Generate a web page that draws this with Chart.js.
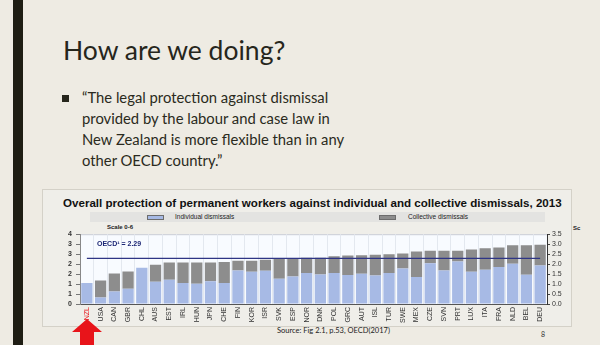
<!DOCTYPE html>
<html>
<head>
<meta charset="utf-8">
<script src="https://cdn.jsdelivr.net/npm/chart.js@4.4.1/dist/chart.umd.min.js"></script>
<style>
html,body{margin:0;padding:0;}
body{width:600px;height:345px;overflow:hidden;background:#eeebe3;position:relative;font-family:Lato,"Open Sans",sans-serif;}
.abs{position:absolute;white-space:nowrap;}
#leftbar{left:13px;top:0;width:10px;height:345px;background:#1f1e14;}
#title{left:63px;top:34px;font-size:26.5px;line-height:32px;color:#26261c;}
#bullet{left:62px;top:95px;width:7px;height:7px;background:#26261c;}
#quote{left:82px;top:87px;font-size:14.8px;line-height:21px;color:#2a2a20;}
#frame{left:42px;top:189px;width:528px;height:136px;border:1px solid #d4d1c8;background:#efeee9;}
#ctitle{left:63px;top:197px;font-family:"Liberation Sans",Arial,sans-serif;font-weight:bold;font-size:10.5px;line-height:12px;color:#111;}
#band{left:90px;top:212px;width:455px;height:10px;background:#e3e3e1;}
.sw{position:absolute;width:15px;height:3px;border:1px solid #6d6d6d;}
.lt{font-family:"Liberation Sans Narrow","Liberation Sans",Arial,sans-serif;font-size:6.5px;line-height:8px;color:#222;}
#chartwrap{left:42px;top:226px;width:530px;height:100px;}
#oecd{left:97px;top:240px;font-family:"Liberation Sans Narrow","Liberation Sans",Arial,sans-serif;font-weight:bold;font-size:7px;line-height:8px;color:#1d2775;}
#source{left:277px;top:326px;font-size:7.5px;line-height:10px;color:#222;}
#pnum{left:541px;top:330px;font-size:7px;line-height:9px;color:#333;}
</style>
</head>
<body>
<div id="leftbar" class="abs"></div>
<div id="title" class="abs">How are we doing?</div>
<div id="bullet" class="abs"></div>
<div id="quote" class="abs">“The legal protection against dismissal<br>provided by the labour and case law in<br>New Zealand is more flexible than in any<br>other OECD country.”</div>
<div id="frame" class="abs"></div>
<div id="ctitle" class="abs"><span id="ctitleText">Overall protection of permanent workers against individual and collective dismissals, 2013</span></div>
<div id="band" class="abs"></div>
<div class="sw" style="left:147px;top:215px;background:#a7bae5;"></div>
<div class="abs lt" style="left:175px;top:213px;">Individual dismissals</div>
<div class="sw" style="left:379px;top:215px;background:#8d8d8d;"></div>
<div class="abs lt" style="left:408px;top:213px;">Collective dismissals</div>
<div class="abs lt" style="left:107px;top:223px;font-weight:bold;font-size:6px;">Scale 0-6</div>
<div class="abs lt" style="left:573px;top:224px;font-weight:bold;font-size:6px;">Sc</div>
<div id="chartwrap" class="abs"><canvas id="c" width="530" height="100"></canvas></div>
<div id="oecd" class="abs"></div>
<div id="source" class="abs">Source: Fig 2.1, p.53, OECD(2017)</div>
<div id="pnum" class="abs">8</div>
<svg class="abs" style="left:0;top:0;" width="600" height="345">
  <polygon points="87,319 102,332 94,332 94,345 80,345 80,332 72,332" fill="#e8141a"/>
</svg>
<script>
const countries = ['NZL','USA','CAN','GBR','CHL','AUS','EST','IRL','HUN','JPN','CHE','FIN','KOR','ISR','SVK','ESP','NOR','DNK','POL','GRC','AUT','ISL','TUR','SWE','MEX','CZE','SVN','PRT','LUX','ITA','FRA','NLD','BEL','DEU'];
const individual = [1.05,0.33,0.63,0.77,1.82,1.12,1.22,1.05,1.01,1.14,1.05,1.68,1.62,1.67,1.27,1.38,1.56,1.48,1.55,1.46,1.52,1.43,1.56,1.78,1.35,2.04,1.68,2.13,1.62,1.72,1.85,2.02,1.47,1.93];
const collective = [0.00,0.85,0.90,0.86,0.00,0.85,0.86,1.03,1.07,0.94,1.05,0.49,0.55,0.55,0.99,0.90,0.76,0.84,0.85,0.97,0.92,1.04,0.93,0.75,1.28,0.63,0.99,0.54,1.11,1.08,0.98,0.93,1.48,1.04];
const OECD_AVG = 2.29;
const axisTicks = [0,0.5,1,1.5,2,2.5,3,3.5];

document.getElementById('oecd').innerHTML = 'OECD¹ = ' + OECD_AVG.toFixed(2);

(function(){
  const el = document.getElementById('ctitle');
  const sp = document.getElementById('ctitleText');
  const target = 499;
  const fs = parseFloat(getComputedStyle(el).fontSize);
  el.style.fontSize = (fs * target / sp.getBoundingClientRect().width) + 'px';
})();

const plotBg = {
  id: 'plotBg',
  beforeDraw(chart) {
    const {ctx, chartArea: a} = chart;
    ctx.save();
    ctx.fillStyle = '#f8fbff';
    ctx.fillRect(a.left, a.top, a.right - a.left, a.bottom - a.top);
    ctx.strokeStyle = '#c8ccd3';
    ctx.lineWidth = 1;
    ctx.beginPath();
    ctx.moveTo(a.left, a.top + 0.5);
    ctx.lineTo(a.right, a.top + 0.5);
    ctx.stroke();
    ctx.restore();
  }
};

new Chart(document.getElementById('c'), {
  data: {
    labels: countries,
    datasets: [
      {type:'line', label:'OECD average', data: countries.map(() => OECD_AVG), borderColor:'#2f3585', borderWidth:1.3, pointRadius:0, stack:'oecd', order:0, yAxisID:'y'},
      {type:'bar', label:'Individual dismissals', data: individual, backgroundColor:'#a7bae5', stack:'s', barPercentage:0.82, categoryPercentage:1, order:1, yAxisID:'y'},
      {type:'bar', label:'Collective dismissals', data: collective, backgroundColor:'#8d8d8d', stack:'s', barPercentage:0.82, categoryPercentage:1, order:2, yAxisID:'y'}
    ]
  },
  options: {
    responsive: false,
    animation: false,
    layout: {padding: {top: 8, left: 0, right: 0, bottom: 0}},
    plugins: {legend: {display: false}, tooltip: {enabled: false}},
    scales: {
      x: {
        stacked: true,
        grid: {offset: true, color: '#e3e8ef', drawTicks: false},
        border: {color: '#555'},
        ticks: {autoSkip: false, minRotation: 90, maxRotation: 90, padding: 3,
          font: {family: '"Liberation Sans Narrow","Liberation Sans",Arial', size: 7},
          color: c => c.index === 0 ? '#e8141a' : '#333'},
        afterFit(s) { s.height = 22; }
      },
      y: {
        position: 'left', stacked: true, min: 0, max: 3.5,
        afterBuildTicks(s) { s.ticks = axisTicks.map(v => ({value: v})); },
        ticks: {autoSkip: false, callback: v => String(Math.round(v)), padding: 4,
          font: {family: '"Liberation Sans",Arial', size: 7, weight: 'bold'}, color: '#333'},
        grid: {drawOnChartArea: false, tickLength: 4, color: '#777'},
        border: {color: '#888'},
        afterFit(s) { s.width = 38; }
      },
      y2: {
        position: 'right', min: 0, max: 3.5,
        afterBuildTicks(s) { s.ticks = axisTicks.map(v => ({value: v})); },
        ticks: {autoSkip: false, callback: v => v.toFixed(1), padding: 2,
          font: {family: '"Liberation Sans",Arial', size: 7}, color: '#333'},
        grid: {drawOnChartArea: false, tickLength: 3, color: '#444'},
        border: {color: '#333'},
        afterFit(s) { s.width = 25; }
      }
    }
  },
  plugins: [plotBg]
});
</script>
</body>
</html>
